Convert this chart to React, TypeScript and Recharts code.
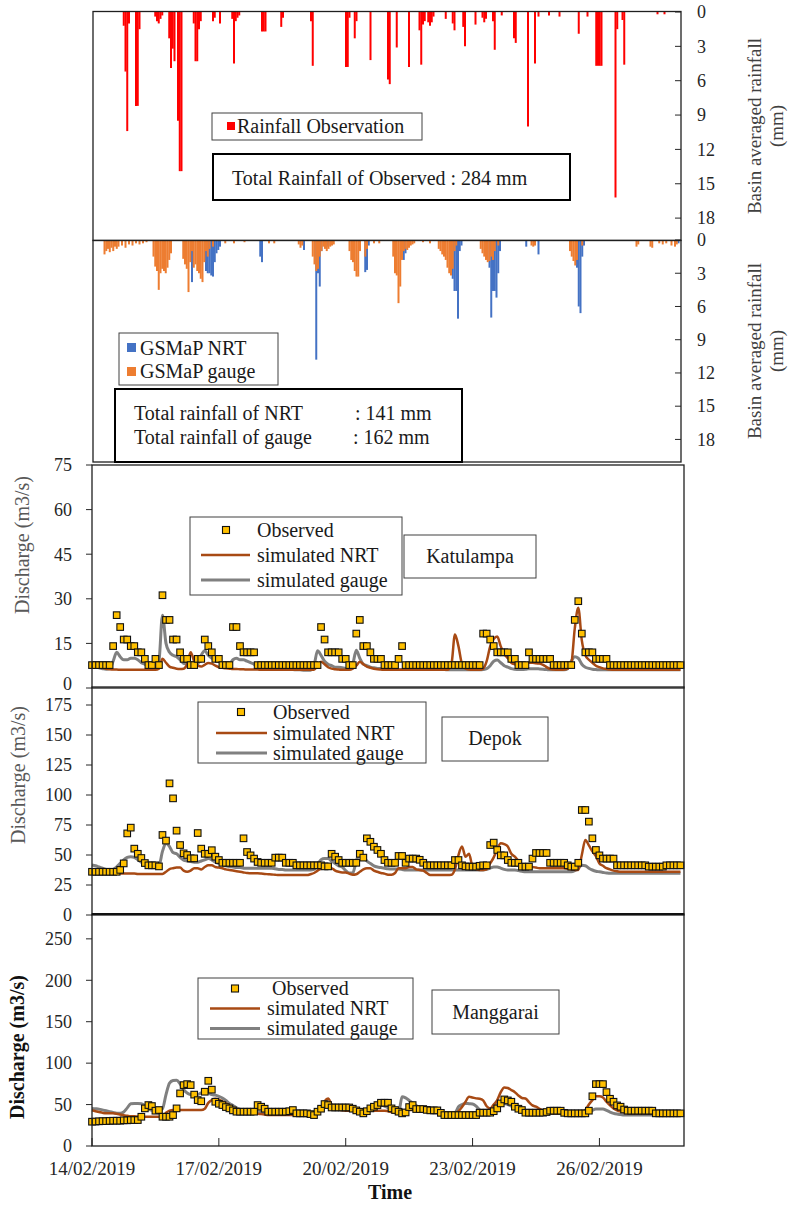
import React from 'react';
import { ComposedChart, BarChart, Bar, Line, XAxis, YAxis } from 'recharts';

const FONT = '"Liberation Serif", "Times New Roman", serif';
const HOURS = 336;
const STEP = 2; // hours between discharge samples

const dateTicks = [0, 72, 144, 216, 288];
const dateLabels = ['14/02/2019', '17/02/2019', '20/02/2019', '23/02/2019', '26/02/2019'];
const rainTicks = [0, 3, 6, 9, 12, 15, 18];
const katTicks = [0, 15, 30, 45, 60, 75];
const depTicks = [0, 25, 50, 75, 100, 125, 150, 175];
const manTicks = [0, 50, 100, 150, 200, 250];

// hourly rainfall, [hour since 14/02 00:00, mm]
const rainObs: [number, number][] = [
  [17, 1.2], [18, 5.2], [19, 10.4], [20, 1.0], [24, 8.2], [25, 8.2], [26, 1.5], [35, 0.4], [36, 0.8], [37, 1.0],
  [38, 0.6], [39, 0.3], [43, 2.3], [44, 4.9], [45, 3.2], [46, 4.3], [48, 9.5], [49, 13.9], [50, 13.9], [57, 1.0],
  [58, 4.3], [59, 4.3], [60, 1.5], [61, 0.8], [68, 0.8], [69, 0.5], [72, 1.0], [79, 0.6], [80, 4.5], [81, 0.8],
  [82, 0.5], [83, 0.3], [96, 1.7], [97, 1.7], [98, 1.7], [107, 1.3], [108, 0.5], [124, 0.8], [125, 4.7], [144, 4.8],
  [145, 4.8], [146, 0.5], [149, 2.3], [150, 0.8], [158, 4.2], [168, 5.9], [169, 6.3], [173, 3.1], [180, 4.8], [186, 1.6],
  [187, 4.6], [188, 1.1], [189, 0.8], [191, 0.9], [192, 1.2], [193, 0.9], [194, 0.4], [201, 0.6], [205, 1.0], [206, 1.6],
  [211, 1.3], [212, 3.0], [218, 1.1], [222, 0.5], [223, 0.9], [224, 0.6], [228, 0.8], [229, 3.3], [233, 0.3], [240, 2.3],
  [241, 2.7], [248, 10.0], [252, 4.5], [254, 0.4], [260, 0.3], [266, 0.4], [277, 1.9], [282, 0.4], [287, 4.7], [288, 4.7],
  [289, 4.7], [290, 4.7], [298, 16.2], [299, 1.5], [302, 0.7], [303, 4.6], [322, 0.2], [326, 0.2],
];

const rainNrt: [number, number][] = [
  [56, 3.8], [64, 2.8], [65, 3.0], [66, 3.0], [67, 3.2], [68, 3.3], [69, 2.0], [70, 1.2], [71, 0.9], [72, 0.6],
  [95, 1.5], [96, 2.0], [120, 0.9], [127, 10.8], [128, 3.0], [129, 4.2], [130, 1.0], [133, 0.6], [134, 0.5], [155, 2.9],
  [156, 2.7], [157, 0.5], [176, 0.5], [177, 1.8], [178, 1.2], [205, 3.5], [206, 4.6], [207, 4.6], [208, 7.1], [209, 1.0],
  [210, 0.5], [226, 2.5], [227, 7.0], [228, 4.6], [229, 4.6], [230, 5.2], [231, 3.0], [232, 1.0], [247, 0.6], [254, 1.3],
  [276, 2.5], [277, 6.0], [278, 6.6], [279, 1.5], [280, 0.5], [334, 0.3],
];

const rainGauge: [number, number][] = [
  [6, 1.3], [7, 1.0], [8, 0.8], [9, 1.1], [10, 0.7], [11, 1.0], [12, 0.6], [13, 0.8], [14, 0.6], [16, 0.5],
  [18, 0.7], [20, 0.4], [22, 0.5], [24, 0.3], [26, 0.4], [28, 0.3], [30, 0.2], [34, 1.5], [35, 2.4], [36, 2.8],
  [37, 4.5], [38, 3.0], [39, 2.6], [40, 2.8], [41, 3.0], [42, 2.5], [43, 1.8], [44, 1.2], [51, 1.7], [52, 2.2],
  [53, 2.6], [54, 4.7], [55, 2.0], [56, 1.0], [57, 2.5], [58, 2.2], [59, 2.8], [60, 3.0], [61, 3.5], [62, 3.8],
  [63, 2.0], [64, 1.0], [65, 1.5], [66, 0.8], [68, 0.6], [75, 0.3], [80, 0.3], [86, 0.2], [100, 0.3], [103, 0.3],
  [117, 0.4], [118, 0.7], [119, 0.5], [125, 1.5], [126, 2.2], [127, 2.8], [128, 2.6], [129, 1.5], [130, 1.0], [131, 0.6],
  [132, 0.8], [133, 1.0], [134, 0.8], [135, 0.6], [136, 0.5], [137, 0.4], [146, 1.0], [147, 1.8], [148, 2.0], [149, 2.8],
  [150, 3.3], [151, 3.3], [152, 1.0], [155, 1.5], [156, 0.8], [160, 0.3], [163, 0.3], [171, 1.5], [172, 3.0], [173, 3.2],
  [174, 5.7], [175, 4.2], [176, 1.8], [177, 1.0], [178, 0.8], [179, 0.9], [180, 0.7], [181, 0.5], [182, 0.4], [183, 0.3],
  [188, 0.2], [192, 0.3], [197, 0.8], [198, 1.0], [199, 1.3], [200, 1.5], [201, 1.8], [202, 2.5], [203, 3.0], [204, 3.2],
  [205, 2.6], [206, 1.0], [207, 0.5], [221, 0.8], [222, 1.2], [223, 1.5], [224, 1.8], [225, 2.0], [226, 1.9], [227, 1.5],
  [228, 1.8], [229, 1.0], [231, 0.5], [250, 0.5], [251, 0.6], [252, 0.5], [272, 1.0], [273, 1.5], [274, 1.9], [275, 2.3],
  [276, 1.8], [279, 0.5], [310, 0.6], [311, 0.4], [318, 0.6], [319, 0.7], [323, 0.3], [325, 0.4], [327, 0.3], [330, 0.5],
  [332, 0.6], [333, 0.4],
];

// discharge every 2 h, one row per day
const katObs = [
  7.7, 7.7, 7.7, 7.7, 7.7, 7.7, 14.1, 24.5, 20.5, 16.3, 16.3, 14.1,
  14.1, 12, 12, 9.8, 7.7, 7.7, 9.8, 7.7, 31.2, 22.9, 22.9, 16.3,
  16.3, 12, 9.8, 9.8, 7.7, 7.7, 9.8, 9.8, 16.3, 14.1, 12, 9.8,
  9.8, 7.7, 7.7, 7.7, 20.5, 20.5, 14.1, 12, 12, 12, 12, 7.7,
  7.7, 7.7, 7.7, 7.7, 7.7, 7.7, 7.7, 7.7, 7.7, 7.7, 7.7, 7.7,
  7.7, 7.7, 7.7, 7.7, 7.7, 20.5, 16.3, 12, 12, 12, 12, 9.8,
  9.8, 7.7, 7.7, 18.3, 22.9, 14.1, 14.1, 12, 9.8, 9.8, 9.8, 7.7,
  7.7, 7.7, 7.7, 9.8, 14.1, 7.7, 7.7, 7.7, 7.7, 7.7, 7.7, 7.7,
  7.7, 7.7, 7.7, 7.7, 7.7, 7.7, 7.7, 7.7, 7.7, 7.7, 7.7, 7.7,
  7.7, 7.7, 7.7, 18.3, 18.3, 16.3, 14.1, 12, 12, 12, 12, 9.8,
  9.8, 7.7, 7.7, 7.7, 12, 9.8, 9.8, 9.8, 9.8, 9.8, 9.8, 7.7,
  7.7, 7.7, 7.7, 7.7, 7.7, 22.9, 29.2, 18.3, 12, 12, 12, 9.8,
  9.8, 9.8, 9.8, 7.7, 7.7, 7.7, 7.7, 7.7, 7.7, 7.7, 7.7, 7.7,
  7.7, 7.7, 7.7, 7.7, 7.7, 7.7, 7.7, 7.7, 7.7, 7.7, 7.7, 7.7,
];
const katNrt = [
  7.5, 7.3, 7, 6.8, 6.5, 6.3, 6.2, 6.2, 6.1, 6.1, 6.1, 6.1,
  6.1, 6.1, 6.1, 6.1, 6.1, 6.1, 6.1, 6.5, 9.8, 8.5, 7.2, 6.8,
  6.5, 6.4, 6.5, 8, 12, 9, 7.5, 7.2, 7.8, 8.4, 8.2, 7.5,
  7, 6.8, 6.6, 6.5, 6.4, 6.4, 6.3, 6.3, 6.2, 6.2, 6.2, 6.2,
  6.1, 6.1, 6.1, 6.1, 6.1, 6.1, 6.1, 6.1, 6.1, 6.1, 6.1, 6.1,
  6.1, 6.1, 6.1, 6.1, 7.5, 8.8, 8, 7, 6.5, 6.3, 6.2, 6.1,
  6.1, 6.1, 6.5, 7.5, 8.8, 8, 7.2, 6.8, 6.5, 6.3, 6.2, 6.1,
  6.1, 6.1, 6.1, 6.1, 6.1, 6.1, 6.1, 6.1, 6.1, 6.1, 6.1, 6.1,
  6.1, 6.1, 6.1, 6.1, 6.1, 6.1, 8, 18, 14, 8, 6.5, 6.2,
  6.1, 6.1, 6.1, 6.5, 9, 14, 16.5, 17.3, 14, 11.5, 10, 8.5,
  8, 7.8, 8, 8.3, 8.5, 8.5, 8.3, 8.2, 7.8, 7, 6.4, 6.2,
  6.1, 6.1, 6.2, 6.5, 8, 20, 27, 16, 11, 9.5, 8.5, 7.5,
  7, 6.6, 6.4, 6.2, 6.1, 6.1, 6.1, 6.1, 6.1, 6.1, 6.1, 6.1,
  6.1, 6.1, 6.1, 6.1, 6.1, 6.1, 6.1, 6.1, 6.1, 6.1, 6.1, 6.1,
];
const katGauge = [
  7, 7, 6.8, 6.5, 6.3, 6.5, 9, 12, 10.5, 9.5, 9.5, 10,
  10, 9.5, 8.5, 8, 7.2, 6.8, 6.5, 9, 24.5, 15, 12, 11,
  10.5, 9.5, 8.3, 8, 7, 7, 8, 11, 12.5, 11, 10, 9.5,
  9, 8, 7.5, 8, 9.5, 10, 9.5, 9.5, 9, 8.5, 8, 7,
  6.8, 6.6, 6.5, 6.4, 6.4, 6.3, 6.3, 6.2, 6.2, 6.2, 6.1, 6.1,
  6, 6, 6, 7.5, 12.5, 11, 9, 8, 7.5, 7, 7, 6.8,
  6.6, 6.5, 8, 12.7, 10, 8, 7.5, 7, 6.8, 6.6, 6.5, 6.4,
  6.3, 6.3, 6.2, 6.2, 6.2, 6.2, 6.2, 6.2, 6.2, 6.2, 6.2, 6.2,
  6.2, 6.2, 6.2, 6.2, 6.2, 6.1, 6.1, 6.1, 6.1, 6.1, 6.1, 6.1,
  6.1, 6.1, 6.1, 6.2, 6.5, 7.5, 9, 9.4, 8.5, 7.5, 7, 6.5,
  6.3, 6.2, 6.2, 6.3, 6.5, 6.5, 6.5, 6.4, 6.3, 6.2, 6.1, 6.1,
  6.1, 6.1, 6.1, 6.5, 9, 10.5, 10, 8, 7, 6.6, 6.3, 6.2,
  6.1, 6.1, 6.1, 6.1, 6.1, 6.1, 6.1, 6.1, 6.1, 6.1, 6.1, 6.1,
  6.1, 6.1, 6.1, 6.1, 6.1, 6.1, 6.1, 6.1, 6.1, 6.1, 6.1, 6.1,
];

const depObs = [
  36, 36, 36, 36, 36, 36, 36, 36, 37.6, 43, 68, 72.8,
  55.3, 51, 47.5, 43.3, 41.4, 41.4, 41.4, 40.5, 66.7, 62, 109.7, 97.2,
  70.3, 58.3, 51.4, 50, 47.2, 47.2, 68.3, 55.3, 51, 51, 54, 48.6,
  45.8, 43.5, 43.5, 43.5, 43.5, 43.5, 43.5, 63.9, 52.5, 49.7, 47, 44.2,
  43.5, 43.5, 43.5, 43.5, 47.8, 47.8, 47.8, 43.5, 43.5, 43.5, 41.4, 41.4,
  41.4, 41.4, 41.4, 41.4, 41.4, 41.4, 40.5, 40.5, 51, 48.6, 45.8, 43.5,
  43.5, 43.5, 43.5, 43.5, 51, 47.8, 63.9, 61, 56.9, 54.2, 51, 45.8,
  43.5, 43.5, 43.5, 49.2, 49.2, 43.5, 47, 47, 47, 46, 43.5, 41.4,
  41.4, 41.4, 41.4, 41.4, 41.4, 41.4, 41.4, 45.8, 45.8, 41.4, 40.5, 40.3,
  40.3, 40.3, 41, 41.4, 41.4, 58.3, 60.3, 54.2, 49.7, 49.7, 45.8, 43.5,
  43.5, 43.5, 40.3, 40.3, 40.3, 47, 51.7, 51.7, 51.7, 51.7, 43.5, 43.5,
  43.5, 43.5, 43.5, 41.4, 40.3, 40.3, 43.5, 87.5, 87.5, 77.8, 63.9, 54.2,
  49.7, 47, 47, 47, 47, 41.4, 41.4, 41.4, 41.4, 41.4, 41.4, 41.4,
  41.4, 41.4, 40.3, 40.3, 40.3, 40.3, 40.3, 41.4, 41.4, 41.4, 41.4, 41.4,
];
const depNrt = [
  36, 35.5, 35, 34.7, 34.7, 34.7, 34.5, 34.5, 34.5, 34.5, 34.5, 34.5,
  34.5, 34.2, 34.2, 34.2, 34.2, 34.2, 34.2, 34.2, 34.2, 36, 38.3, 39,
  39.5, 39.5, 37, 36, 37, 39, 39, 38, 40, 41.4, 41.4, 40,
  39.5, 39, 38, 37.5, 37, 36.5, 36, 35.5, 35, 34.7, 34.7, 34.7,
  34.5, 34.2, 34, 33.8, 33.5, 33.3, 33.3, 33.3, 33.3, 33.3, 33.3, 33.3,
  33.3, 33.3, 34, 35, 37, 38.5, 39, 39, 39, 37, 36, 35.5,
  35.5, 34.5, 33.6, 34, 36, 38, 39, 39, 37, 36, 35, 34.5,
  33.6, 33.6, 35, 39, 39, 39, 40, 40, 38, 37.5, 37, 35,
  33.3, 33.3, 33.3, 33.3, 33.3, 33.3, 33.5, 38, 50, 57, 48.6, 51,
  40, 38, 37.5, 37.5, 38, 43, 48, 55, 59.7, 59, 57, 51,
  48.6, 45, 41, 40, 40, 40, 39.5, 39, 39, 39, 39, 39,
  39, 39, 39, 38.5, 38, 37.5, 37.5, 50, 62.5, 58, 53, 49,
  43, 41, 39, 38, 37, 36.5, 36, 36, 36, 36, 36, 36,
  36, 36, 36, 36, 36, 36, 36, 36, 36, 36, 36, 36,
];
const depGauge = [
  41.7, 41, 40, 39, 38, 37.5, 38, 40, 43, 46, 48, 48.6,
  48, 46, 44, 42, 41.4, 41, 40.5, 41, 53, 59.7, 57, 52,
  51, 48, 45.8, 45, 44.5, 44, 44, 45, 46, 47, 46, 44,
  43, 42, 41, 40.3, 40, 39.5, 39.5, 39, 39, 39, 39, 39,
  39, 39, 39, 39, 38.5, 38, 38, 37.5, 37.5, 37.5, 37.5, 37.5,
  37.5, 37.5, 37.5, 38, 42, 46, 47, 47, 45, 43, 41, 40,
  37, 35, 35, 45, 51, 49, 45, 43, 41, 40, 39.5, 39,
  38.5, 38.3, 38.3, 38.3, 38, 37.5, 37.5, 37.5, 37.5, 37.5, 37.5, 37.5,
  37.5, 37.5, 37.5, 37.5, 37.5, 37.5, 37.5, 37.5, 37.5, 37.5, 37.5, 37.5,
  37.5, 37.5, 37.5, 37.5, 38, 39, 40, 40, 39, 38, 37.5, 37.5,
  37.5, 37, 36.5, 36, 36, 36, 36, 36, 36, 36, 36, 36,
  36, 36, 36, 36, 36, 37, 39, 41.4, 41, 39, 37.5, 36.5,
  36, 35.5, 35, 34.7, 34.7, 34.7, 34.7, 34.7, 34.7, 34.7, 34.7, 34.7,
  34.7, 34.7, 34.7, 34.7, 34.7, 34.7, 34.7, 34.7, 34.7, 34.7, 34.7, 34.7,
];

const manObs = [
  29.3, 29.5, 29.8, 30, 30, 30.3, 30.5, 30.5, 30.5, 31, 31, 31.3,
  31.3, 31.3, 35.3, 45.4, 49.4, 48.2, 42.6, 43.4, 35.3, 35.3, 35.3, 37.3,
  45.4, 63.5, 73.5, 74.7, 73.5, 62, 55.4, 54, 65.5, 78.7, 68, 53.4,
  51, 49.4, 47, 45.4, 43, 41.4, 41.4, 41.4, 41.4, 41.4, 41.4, 49.4,
  47.4, 45, 41.4, 41.4, 41.4, 41.4, 41.4, 41.4, 42, 43.4, 39.4, 39.4,
  39.4, 39.4, 38.5, 37.3, 41.4, 45, 50.6, 49.4, 46.5, 46.5, 46.5, 46.5,
  46.5, 46.5, 45, 43, 41.4, 39.4, 42, 45.4, 47.4, 49.4, 52.2, 52.2,
  52.2, 45.4, 43.4, 41.4, 39.4, 40.5, 47, 49.4, 44.6, 44.6, 44.6, 43.6,
  43, 43, 43, 40, 37.3, 37.3, 37.3, 37.3, 37.3, 37.3, 37.3, 37.3,
  37.3, 37.3, 40.2, 40.2, 40.2, 40.2, 42, 45.4, 51.4, 56.2, 55, 53.4,
  47.4, 45, 43.4, 40.2, 40.2, 40.2, 40.2, 40.2, 40.2, 41, 42.6, 42.6,
  42.6, 42.6, 40, 39.4, 39.4, 39.4, 39.4, 39.4, 39.4, 42.6, 60, 74.7,
  74.7, 74.7, 65, 57, 53.4, 49, 47.4, 44, 42.6, 42.6, 42.6, 42.6,
  42.6, 42.6, 42.6, 42.6, 39.4, 39.4, 39.4, 39.4, 39.4, 39.4, 39.4, 39.4,
];
const manNrt = [
  43, 42, 41, 40, 39.4, 39.4, 39.4, 39, 38, 37, 36.5, 36,
  36, 35.5, 35.3, 35.3, 35.3, 35.3, 35.3, 35.3, 36, 40, 42.6, 43.4,
  43.4, 43.4, 43.4, 43.4, 43.4, 43.4, 43.4, 43.4, 45, 52, 55.4, 57,
  56, 54, 51.4, 49, 46, 44, 42, 40.5, 39.4, 39.4, 39.4, 39,
  38.5, 38, 37.5, 37.3, 37.3, 37.3, 37.3, 37.3, 37.3, 37.3, 37.3, 37.3,
  37.3, 37.3, 37.3, 38, 40, 46, 54, 57.4, 50, 45.4, 44, 43,
  42.6, 42.6, 42.6, 42.6, 42.6, 42.6, 42.6, 42.6, 42.6, 42.6, 42.6, 42.6,
  42, 41, 40, 39.4, 41, 43.4, 43.4, 43.4, 42.6, 42.6, 42.6, 42.6,
  42.6, 42.6, 42, 41, 40, 39.4, 39.4, 39.4, 42, 47, 53.4, 59.4,
  58.5, 57.5, 57, 55, 48, 45.4, 50, 55.4, 65, 70.7, 70, 67.5,
  65, 61, 58, 57.4, 53, 49, 47.4, 45, 42.6, 41.4, 40, 39.4,
  39.4, 39.4, 39.4, 39.4, 39.4, 39.4, 39.4, 40.5, 43.4, 50, 55.4, 60,
  60, 58.6, 53.4, 49, 45.4, 43, 41.5, 40.5, 39.4, 39.4, 39.4, 39.4,
  39.4, 39.4, 39.4, 39.4, 39.4, 39.4, 39.4, 39.4, 39.4, 39.4, 39.4, 39.4,
];
const manGauge = [
  45.4, 45, 44.5, 43.5, 42.5, 41.5, 40.5, 39.5, 39.4, 41, 46, 51,
  51.4, 51.4, 51, 49, 45, 43, 42.6, 43.4, 45, 62, 76, 79,
  79.5, 75, 68, 64, 62, 61, 62, 64, 65.5, 64, 62, 61.4,
  60, 58, 55, 51.4, 49, 46, 44, 43.4, 42.5, 42, 41.4, 41.4,
  40.5, 40, 39.4, 39.4, 39.4, 39.4, 39.4, 39.4, 39.4, 39.4, 39.4, 39.4,
  39.4, 39.4, 39.4, 40, 42, 46, 49.4, 47, 45, 44, 44, 44,
  44, 44, 44, 44, 44, 44, 44.5, 47, 50, 51.4, 50, 48,
  46, 42, 40, 40, 59.4, 58, 55, 52, 49, 46, 44.6, 43,
  41, 40, 40, 40, 40, 40, 40, 40, 47.4, 50, 51.4, 51,
  50.6, 48, 43.4, 41.4, 41.4, 41.4, 45, 51.4, 51.4, 51.4, 50, 48.2,
  46, 44, 42, 40.5, 39.4, 39.4, 39.4, 39.4, 39.4, 39.4, 39.4, 39.4,
  39.4, 39.4, 39.4, 39.4, 39.4, 39.4, 39.4, 39.4, 39.4, 40, 43, 44.6,
  44.6, 44.6, 43, 41, 39.4, 38.5, 38, 37.5, 37.3, 37.3, 37.3, 37.3,
  37.3, 37.3, 37.3, 37.3, 37.3, 37.3, 37.3, 37.3, 37.3, 37.3, 37.3, 37.3,
];

const RED = '#FF0000';
const BLUE = '#4472C4';
const ORANGE = '#ED7D31';
const BROWN = '#A84A14';
const GREY = '#808080';
const GOLD = '#FFC000';
const INK = '#262626';

function rainRows() {
  const rows = Array.from({ length: HOURS }, (_, h) => ({ h, obs: 0, nrt: 0, gauge: 0 }));
  rainObs.forEach(([h, v]) => { rows[h].obs = v; });
  rainNrt.forEach(([h, v]) => { rows[h].nrt = v; });
  rainGauge.forEach(([h, v]) => { rows[h].gauge = v; });
  return rows;
}
const RAIN = rainRows();

// tick renderers, so the serif font is applied for sure
const makeYTick = (zeroShift = 0) => (p: any) => (
  <text x={p.x} y={p.y + (p.payload.value === 0 ? zeroShift : 0)} dy="0.35em" textAnchor={p.textAnchor}
    fontFamily={FONT} fontSize={18} fill={INK}>
    {p.payload.value}
  </text>
);
const YTick = makeYTick();
const DateTick = (p: any) => (
  <text x={p.x} y={p.y} dy="0.71em" textAnchor="middle" fontFamily={FONT} fontSize={19} fill={INK}>
    {dateLabels[dateTicks.indexOf(p.payload.value)] ?? ''}
  </text>
);

function RainPanel({ top, plotH, series }: { top: number; plotH: number; series: { key: string; color: string }[] }) {
  const h = plotH + 20;
  return (
    <div style={{ position: 'absolute', left: 0, top: top - 10, width: 791, height: h }}>
      <BarChart width={791} height={h} data={RAIN} margin={{ top: 10, right: 70, bottom: 10, left: 93 }} barCategoryGap={0} barGap={0}>
        {series.map((s) => <XAxis key={s.key} xAxisId={s.key} dataKey="h" hide />)}
        <YAxis orientation="right" width={40} reversed domain={[0, 20]} ticks={rainTicks} interval={0} axisLine={false}
          tickSize={-6} tickMargin={22} tickLine={{ stroke: INK }} tick={YTick} />
        {series.map((s) => (
          <Bar key={s.key} xAxisId={s.key} dataKey={s.key} fill={s.color} isAnimationActive={false} />
        ))}
      </BarChart>
    </div>
  );
}

const Square = (p: any) => {
  const { cx, cy, index } = p;
  if (cx == null || cy == null) return <g key={index} />;
  return <rect key={index} x={cx - 3.3} y={cy - 3.3} width={6.6} height={6.6} fill={GOLD} stroke="#111" strokeWidth={1.1} />;
};

function FlowPanel({ top, plotH, max, ticks, obs, nrt, gauge, showTime, zeroShift = 0 }: {
  top: number; plotH: number; max: number; ticks: number[]; obs: number[]; nrt: number[]; gauge: number[];
  showTime?: boolean; zeroShift?: number;
}) {
  const rows = obs.map((o, i) => ({ t: i * STEP, obs: o, nrt: nrt[i], gauge: gauge[i] }));
  const axisH = showTime ? 50 : 0;
  const h = plotH + 20 + axisH;
  return (
    <div style={{ position: 'absolute', left: 0, top: top - 10, width: 791, height: h }}>
      <ComposedChart width={791} height={h} data={rows} margin={{ top: 10, right: 107, bottom: 10, left: 32 }}>
        <XAxis dataKey="t" type="number" domain={[0, HOURS]} ticks={dateTicks} interval={0} hide={!showTime} height={50}
          axisLine={false} tickSize={-8} tickMargin={24} tickLine={{ stroke: INK }} tick={DateTick} />
        <YAxis width={60} domain={[0, max]} ticks={ticks} interval={0} allowDataOverflow axisLine={false}
          tickSize={6} tickMargin={14} tickLine={{ stroke: INK }} tick={makeYTick(zeroShift)} />
        <Line dataKey="gauge" type="monotone" stroke={GREY} strokeWidth={3} dot={false} isAnimationActive={false} />
        <Line dataKey="nrt" type="monotone" stroke={BROWN} strokeWidth={2.5} dot={false} isAnimationActive={false} />
        <Line dataKey="obs" stroke="none" dot={Square} activeDot={false} isAnimationActive={false} />
      </ComposedChart>
    </div>
  );
}

const Box = ({ x, y, w, h, sw = 1, stroke = '#404040' }: any) => (
  <rect x={x} y={y} width={w} height={h} fill="#fff" stroke={stroke} strokeWidth={sw} />
);

function FlowLegend({ box, mx, lx1, lx2, tx, ox, rows }: any) {
  return (
    <g>
      <Box {...box} />
      <rect x={mx - 3.5} y={rows[0] - 3.5} width={7} height={7} fill={GOLD} stroke="#111" strokeWidth={1.1} />
      <text x={ox} y={rows[0] + 6.5}>Observed</text>
      <line x1={lx1} x2={lx2} y1={rows[1]} y2={rows[1]} stroke={BROWN} strokeWidth={2.5} />
      <text x={tx} y={rows[1] + 6.5}>simulated NRT</text>
      <line x1={lx1} x2={lx2} y1={rows[2]} y2={rows[2]} stroke={GREY} strokeWidth={3} />
      <text x={tx} y={rows[2] + 6.5}>simulated gauge</text>
    </g>
  );
}

function Overlay() {
  const frame = { fill: 'none', stroke: '#1f1f1f', strokeWidth: 1.3 };
  return (
    <svg width={791} height={1205} style={{ position: 'absolute', left: 0, top: 0, pointerEvents: 'none' }}
      fontFamily={FONT} fill="#1a1a1a" fontSize={20}>
      {/* frames */}
      <rect x={93} y={11.5} width={588} height={229} {...frame} />
      <rect x={93} y={240.4} width={588} height={221.6} {...frame} />
      <rect x={92} y={465} width={592} height={223} {...frame} />
      <rect x={92} y={687} width={592} height={228} {...frame} />
      <rect x={92} y={914} width={592} height={232} {...frame} />
      <line x1={92} x2={684} y1={914} y2={914} stroke="#111" strokeWidth={2.2} />

      {/* rainfall axis titles */}
      {[126, 351].map((cy) => (
        <g key={cy} fill="#404040" fontSize={19}>
          <text transform={`translate(761,${cy}) rotate(-90)`} textAnchor="middle">Basin averaged rainfall</text>
          <text transform={`translate(783,${cy}) rotate(-90)`} textAnchor="middle">(mm)</text>
        </g>
      ))}

      {/* observed rainfall legend */}
      <Box x={212} y={113} w={210} h={27} />
      <rect x={227} y={122} width={8} height={8} fill={RED} />
      <text x={237} y={133}>Rainfall Observation</text>
      <Box x={213} y={154} w={357} h={46} sw={2} stroke="#000" />
      <text x={232} y={185}>Total Rainfall of Observed : 284 mm</text>

      {/* GSMaP legend */}
      <Box x={119} y={333} w={159} h={52} />
      <rect x={127} y={343} width={9} height={9} fill={BLUE} />
      <text x={140} y={355}>GSMaP NRT</text>
      <rect x={127} y={367} width={9} height={9} fill={ORANGE} />
      <text x={140} y={378}>GSMaP gauge</text>
      <Box x={115} y={389} w={347} h={73} sw={2} stroke="#000" />
      <text x={134} y={420}>Total rainfall of NRT</text>
      <text x={355} y={420}>: 141 mm</text>
      <text x={134} y={444}>Total rainfall of gauge</text>
      <text x={353} y={444}>: 162 mm</text>

      {/* discharge legends */}
      <FlowLegend box={{ x: 190, y: 517, w: 212, h: 78 }} mx={226} lx1={201} lx2={250} tx={257} ox={257} rows={[530, 555, 580]} />
      <Box x={404} y={535} w={132} h={43} />
      <text x={470} y={563} textAnchor="middle">Katulampa</text>

      <FlowLegend box={{ x: 198, y: 702, w: 228, h: 61 }} mx={241} lx1={216} lx2={267} tx={273} ox={273} rows={[712, 733, 753]} />
      <Box x={442} y={717} w={106} h={44} />
      <text x={495} y={745} textAnchor="middle">Depok</text>

      <FlowLegend box={{ x: 198, y: 978, w: 215, h: 61 }} mx={235} lx1={210} lx2={260} tx={267} ox={272} rows={[988.5, 1008.5, 1028.5]} />
      <Box x={432} y={990} w={127} h={44} />
      <text x={495.5} y={1018.5} textAnchor="middle">Manggarai</text>

      {/* y titles */}
      <text transform="translate(29,545) rotate(-90)" textAnchor="middle" fill="#595959">Discharge (m3/s)</text>
      <text transform="translate(25,775) rotate(-90)" textAnchor="middle" fill="#595959">Discharge (m3/s)</text>
      <text transform="translate(24,1047) rotate(-90)" textAnchor="middle" fontWeight="bold" fill="#111">Discharge (m3/s)</text>
      <text x={390} y={1199} textAnchor="middle" fontWeight="bold" fill="#111">Time</text>
    </svg>
  );
}

export default function App() {
  return (
    <div style={{ position: 'absolute', left: 0, top: 0, width: 791, height: 1205, background: '#fff', fontFamily: FONT, overflow: 'hidden' }}>
      <RainPanel top={11.5} plotH={229} series={[{ key: 'obs', color: RED }]} />
      <RainPanel top={240.4} plotH={221.6} series={[{ key: 'nrt', color: BLUE }, { key: 'gauge', color: ORANGE }]} />
      <FlowPanel top={465} plotH={223} max={75} ticks={katTicks} obs={katObs} nrt={katNrt} gauge={katGauge} zeroShift={-4} />
      <FlowPanel top={687} plotH={228} max={190} ticks={depTicks} obs={depObs} nrt={depNrt} gauge={depGauge} />
      <FlowPanel top={914} plotH={232} max={280} ticks={manTicks} obs={manObs} nrt={manNrt} gauge={manGauge} showTime />
      <Overlay />
    </div>
  );
}
